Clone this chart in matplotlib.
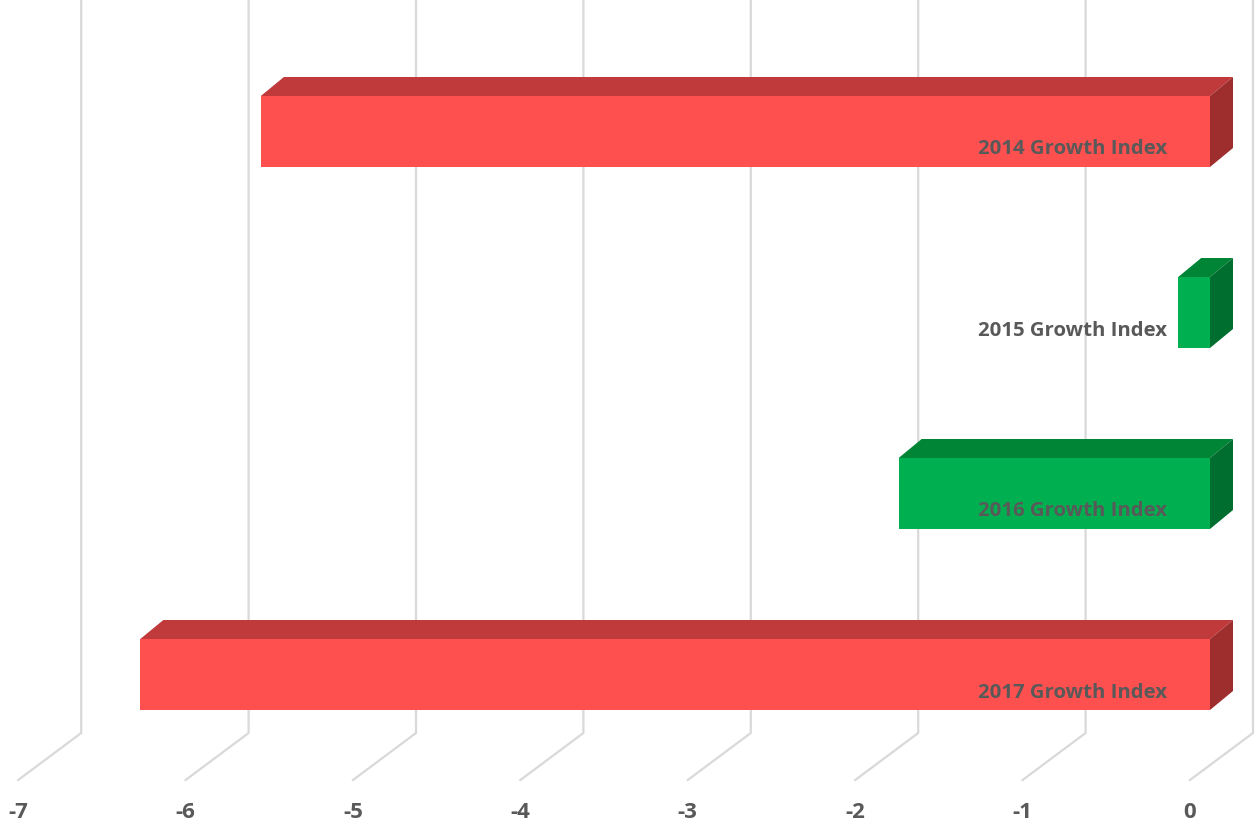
import numpy as np
import matplotlib
matplotlib.use("Agg")
from matplotlib import pyplot as plt
from matplotlib.patches import Polygon

# data
labels = ["2014 Growth Index", "2015 Growth Index", "2016 Growth Index", "2017 Growth Index"]
values = [-5.67, -0.19, -1.86, -6.39]
ticks = [-7, -6, -5, -4, -3, -2, -1, 0]

red = {"front": "#FF5050", "top": "#C0393B", "side": "#9E2D2D"}
green = {"front": "#00B050", "top": "#008537", "side": "#006E2E"}
bar_colors = [red, green, green, red]

# oblique 3d look (x in value units, y in row units, rows go down)
px_x = 167.4          # pixels per value unit
px_y = 181.0          # pixels per row
floor_dx = 63 / px_x  # full depth offset of the floor
floor_dy = 47 / px_y
bar_dx = 23 / px_x    # depth of one bar
bar_dy = 19 / px_y
bar_x0 = 20 / px_x    # bar front face starts a bit behind the front plane
bar_h = 71 / px_y
floor_front = (780 - 131.5) / px_y
grid_c = "#D9D9D9"
text_c = "#595959"
font = "Open Sans"

fig = plt.figure(figsize=(12.56, 8.25), dpi=100)
ax = fig.add_axes([0, 0, 1, 1])
ax.set_xlim(-1190 / px_x, (1256 - 1190) / px_x)
ax.set_ylim((825 - 131.5) / px_y, -131.5 / px_y)
ax.axis("off")

# gridlines: vertical on back wall, then diagonal on the floor
for t in ticks:
    ax.plot([t + floor_dx, t + floor_dx, t],
            [-2, floor_front - floor_dy, floor_front],
            color=grid_c, lw=1.6, zorder=1)
    ax.text(t, floor_front + (812 - 780) / px_y, str(t), ha="center", va="center",
            fontsize=16, fontweight="bold", color=text_c, family=font)

for i, (lab, v, c) in enumerate(zip(labels, values, bar_colors)):
    x0 = v + bar_x0
    x1 = bar_x0
    top = i - bar_h / 2
    bot = i + bar_h / 2
    front = Polygon([(x0, top), (x1, top), (x1, bot), (x0, bot)], closed=True,
                    facecolor=c["front"], edgecolor="none", zorder=3)
    topf = Polygon([(x0, top), (x1, top), (x1 + bar_dx, top - bar_dy), (x0 + bar_dx, top - bar_dy)],
                   closed=True, facecolor=c["top"], edgecolor="none", zorder=3)
    side = Polygon([(x1, top), (x1, bot), (x1 + bar_dx, bot - bar_dy), (x1 + bar_dx, top - bar_dy)],
                   closed=True, facecolor=c["side"], edgecolor="none", zorder=3)
    for p in (front, topf, side):
        ax.add_patch(p)
    ax.text(-23 / px_x, i + 18 / px_y, lab, ha="right", va="center",
            fontsize=14.7, fontweight="bold", color=text_c, family=font, zorder=4)

fig.savefig("out.png", dpi=100)
